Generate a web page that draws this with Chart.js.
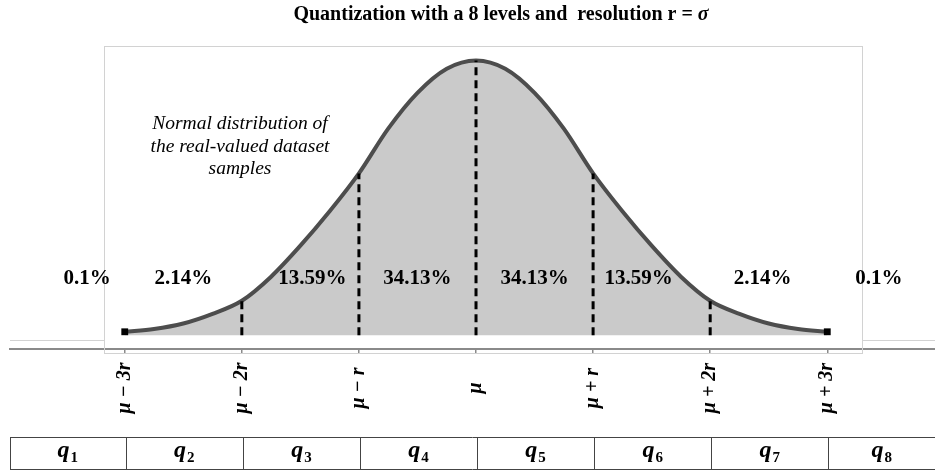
<!DOCTYPE html>
<html>
<head>
<meta charset="utf-8">
<script src="https://cdn.jsdelivr.net/npm/chart.js@4/dist/chart.umd.min.js"></script>
<style>
  body { margin: 0; background: #fff; }
  #wrap { width: 935px; height: 470px; position: relative; }
</style>
</head>
<body>
<div id="wrap"><canvas id="quantChart"></canvas></div>
<script>
// curve samples (x in units of r, y = density)
const curveX = [-3, -2.75, -2.5, -2.25, -2, -1.75, -1.5, -1.25, -1, -0.75, -0.5, -0.25, 0,
                0.25, 0.5, 0.75, 1, 1.25, 1.5, 1.75, 2, 2.25, 2.5, 2.75, 3];
const curveY = [0.005, 0.009, 0.017, 0.031, 0.05, 0.085, 0.13, 0.18, 0.235, 0.30, 0.352, 0.387, 0.399,
                0.387, 0.352, 0.30, 0.235, 0.18, 0.13, 0.085, 0.05, 0.031, 0.017, 0.009, 0.005];
const boundaryX = [-2, -1, 0, 1, 2];
const tickValues = [-3, -2, -1, 0, 1, 2, 3];
const tickLabels = ['μ − 3r', 'μ − 2r', 'μ − r', 'μ', 'μ + r', 'μ + 2r', 'μ + 3r'];
const bandShares = ['0.1%', '2.14%', '13.59%', '34.13%', '34.13%', '13.59%', '2.14%', '0.1%'];
const levelIndex = ['1', '2', '3', '4', '5', '6', '7', '8'];
const noteLines = ['Normal distribution of', 'the real-valued dataset', 'samples'];

const curvePoints = curveX.map((x, i) => ({ x: x, y: curveY[i] }));

// vertical dashed boundaries, from 0 up to the curve, separated by gaps
const dashPoints = [];
boundaryX.forEach(b => {
  const v = curveY[curveX.indexOf(b)];
  dashPoints.push({ x: b, y: 0 }, { x: b, y: v }, { x: b, y: null });
});

const serif = '"Liberation Serif", "DejaVu Serif", serif';

const decorations = {
  id: 'decorations',
  beforeDatasetsDraw(chart) {
    const ctx = chart.ctx;
    ctx.save();
    ctx.strokeStyle = '#d2d2d2';
    ctx.lineWidth = 1;
    ctx.strokeRect(104.5, 46.5, 758, 307);
    ctx.beginPath();
    ctx.moveTo(10, 340.5); ctx.lineTo(104, 340.5);
    ctx.moveTo(862, 340.5); ctx.lineTo(935, 340.5);
    ctx.stroke();
    ctx.restore();
  },
  afterDraw(chart) {
    const ctx = chart.ctx;
    const xs = chart.scales.x;
    ctx.save();

    // title
    const t1 = 'Quantization with a 8 levels and  resolution r = ';
    ctx.font = 'bold 20px ' + serif;
    const w1 = ctx.measureText(t1).width;
    ctx.font = 'bold italic 20px ' + serif;
    const w2 = ctx.measureText('σ').width;
    let tx = 501 - (w1 + w2) / 2;
    ctx.fillStyle = '#000';
    ctx.textBaseline = 'alphabetic';
    ctx.textAlign = 'left';
    ctx.font = 'bold 20px ' + serif;
    ctx.fillText(t1, tx, 20);
    ctx.font = 'bold italic 20px ' + serif;
    ctx.fillText('σ', tx + w1, 20);

    // note
    ctx.font = 'italic 19.5px ' + serif;
    ctx.textAlign = 'center';
    ctx.textBaseline = 'middle';
    noteLines.forEach((line, i) => ctx.fillText(line, 240, 124 + i * 22.5));

    // percentages per band
    const nudge = [21, 0, 12, 0, 0, -13, -6, -7];
    ctx.font = 'bold 21px ' + serif;
    bandShares.forEach((s, i) => {
      const cx = xs.getPixelForValue(-3.5 + i) + nudge[i];
      ctx.fillText(s, cx, 279);
    });

    // rotated tick labels, centred below the ticks
    ctx.font = 'bold italic 20px ' + serif;
    tickLabels.forEach((lab, i) => {
      ctx.save();
      ctx.translate(xs.getPixelForValue(tickValues[i]), 388);
      ctx.rotate(-Math.PI / 2);
      ctx.fillText(lab, 0, 0);
      ctx.restore();
    });

    // quantization level table
    const top = 437.5, bottom = 469.5;
    ctx.strokeStyle = '#444';
    ctx.lineWidth = 1;
    ctx.beginPath();
    ctx.moveTo(10, top); ctx.lineTo(935, top);
    ctx.moveTo(10, bottom); ctx.lineTo(935, bottom);
    ctx.moveTo(10.5, top); ctx.lineTo(10.5, bottom);
    tickValues.forEach(v => {
      const px = Math.round(xs.getPixelForValue(v)) + 1.5;
      ctx.moveTo(px, top); ctx.lineTo(px, bottom);
    });
    ctx.stroke();

    const edges = [10].concat(tickValues.map(v => xs.getPixelForValue(v) + 1), [935]);
    levelIndex.forEach((n, i) => {
      const cx = (edges[i] + edges[i + 1]) / 2;
      ctx.font = 'bold italic 24px ' + serif;
      const qw = ctx.measureText('q').width;
      ctx.font = 'bold 15px ' + serif;
      const nw = ctx.measureText(n).width;
      const x0 = cx - (qw + nw + 1) / 2;
      ctx.textAlign = 'left';
      ctx.textBaseline = 'alphabetic';
      ctx.font = 'bold italic 24px ' + serif;
      ctx.fillText('q', x0, 457);
      ctx.font = 'bold 15px ' + serif;
      ctx.fillText(n, x0 + qw + 1, 462);
    });
    ctx.restore();
  }
};

new Chart(document.getElementById('quantChart'), {
  type: 'line',
  data: {
    datasets: [
      {
        data: dashPoints,
        borderColor: '#000',
        borderWidth: 3,
        borderDash: [8, 5],
        pointRadius: 0,
        fill: false,
        spanGaps: false
      },
      {
        data: curvePoints,
        borderColor: '#4d4d4d',
        borderWidth: 4,
        backgroundColor: '#cacaca',
        fill: 'origin',
        tension: 0.4,
        cubicInterpolationMode: 'monotone',
        pointStyle: 'rect',
        pointRadius: ctx => (ctx.dataIndex === 0 || ctx.dataIndex === curveX.length - 1) ? 2 : 0,
        pointBackgroundColor: '#000',
        pointBorderColor: '#000'
      }
    ]
  },
  options: {
    responsive: true,
    maintainAspectRatio: false,
    animation: false,
    events: [],
    layout: { autoPadding: false, padding: { top: 46, left: 10, right: 0, bottom: 0 } },
    plugins: {
      legend: { display: false },
      tooltip: { enabled: false },
      title: { display: false }
    },
    scales: {
      x: {
        type: 'linear',
        min: -3.98,
        max: 3.92,
        afterBuildTicks: scale => { scale.ticks = tickValues.map(v => ({ value: v })); },
        afterFit: scale => { scale.height = 121; },
        border: { display: true, color: '#8a8a8a', width: 2 },
        grid: { drawOnChartArea: false, color: '#8a8a8a', tickLength: 5, lineWidth: 1.5 },
        ticks: { display: false }
      },
      y: {
        display: false,
        min: -0.02,
        max: 0.42
      }
    }
  },
  plugins: [decorations]
});
</script>
</body>
</html>
